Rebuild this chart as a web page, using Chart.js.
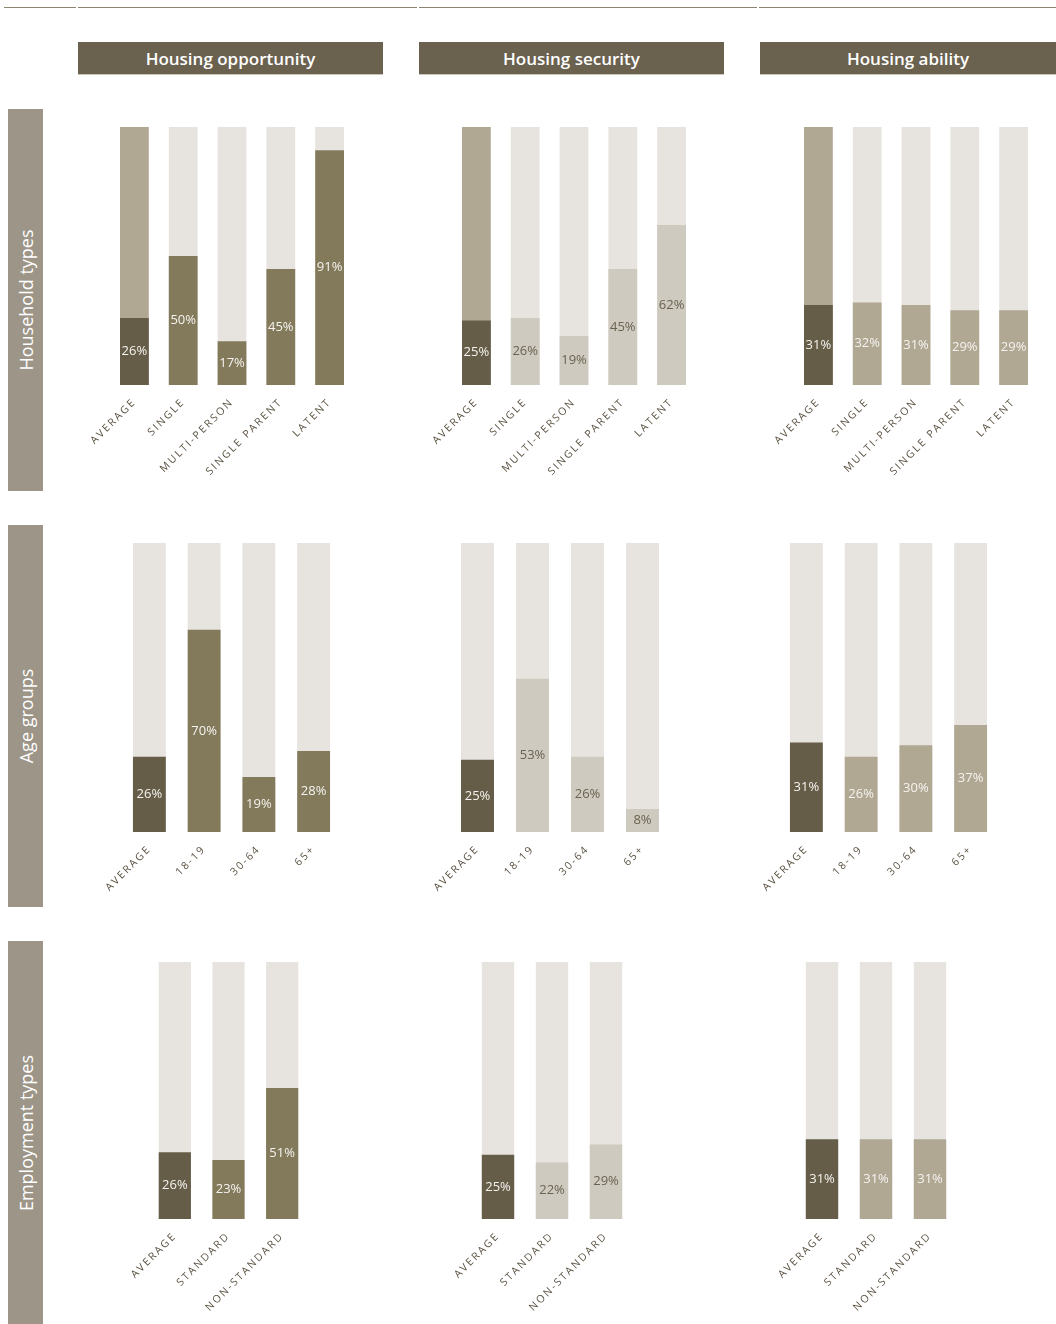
<!DOCTYPE html>
<html>
<head>
<meta charset="utf-8">
<script src="https://cdn.jsdelivr.net/npm/chart.js@4.4.1/dist/chart.umd.min.js"></script>
<style>
  html, body { margin: 0; padding: 0; background: #ffffff; }
  #page { position: relative; width: 1056px; height: 1324px; overflow: hidden; font-family: "Open Sans", sans-serif; }
  .rule { position: absolute; top: 7px; height: 1px; background: #8c8472; }
  .colhead { position: absolute; top: 42px; height: 32px; background: #6a614f; color: #ffffff; font-size: 17px; font-weight: 600;
             display: flex; align-items: center; justify-content: center; border-bottom: 1px solid #cbc6bb; }
  .rowhead { position: absolute; left: 8px; width: 35px; background: #9d9587; }
  .rowhead span { position: absolute; left: 50%; top: 50%; transform: translate(-50%, -50%) rotate(-90deg); white-space: nowrap;
                  color: #ffffff; font-size: 18px; font-weight: 500; }
  canvas.panel { position: absolute; left: 0; top: 0; }
</style>
</head>
<body>
<div id="page">
  <div class="rule" style="left:4px;width:72px"></div>
  <div class="rule" style="left:78px;width:339px"></div>
  <div class="rule" style="left:419px;width:338px"></div>
  <div class="rule" style="left:759px;width:297px"></div>

  <div class="colhead" style="left:78px;width:305px">Housing opportunity</div>
  <div class="colhead" style="left:419px;width:305px">Housing security</div>
  <div class="colhead" style="left:760px;width:296px">Housing ability</div>

  <div class="rowhead" style="top:109px;height:382px"><span>Household types</span></div>
  <div class="rowhead" style="top:525px;height:382px"><span>Age groups</span></div>
  <div class="rowhead" style="top:941px;height:383px"><span>Employment types</span></div>
</div>
<script>
// ---------- data ----------
const householdCats = ['AVERAGE', 'SINGLE', 'MULTI-PERSON', 'SINGLE PARENT', 'LATENT'];
const ageCats = ['AVERAGE', '18-19', '30-64', '65+'];
const employmentCats = ['AVERAGE', 'STANDARD', 'NON-STANDARD'];

const opportunityHousehold = [26, 50, 17, 45, 91];
const securityHousehold = [25, 26, 19, 45, 62];
const abilityHousehold = [31, 32, 31, 29, 29];

const opportunityAge = [26, 70, 19, 28];
const securityAge = [25, 53, 26, 8];
const abilityAge = [31, 26, 30, 37];

const opportunityEmployment = [26, 23, 51];
const securityEmployment = [25, 22, 29];
const abilityEmployment = [31, 31, 31];

const fullShare = 100;

// ---------- styling ----------
const W = 1056, H = 1324;
const AXIS_H = 100;
const C = {
  avg: '#665d48',
  opportunity: '#837a5c',
  security: '#cecabf',
  ability: '#b1a894',
  track: '#e7e4e0',
  trackAvgRow1: '#b1a894',
  labelLight: '#f5f3ef',
  labelDark: '#6b6251',
  tick: '#5a5141'
};

const valueLabelPlugin = {
  id: 'valueLabels',
  beforeDraw(chart) { chart.ctx.letterSpacing = '2px'; },
  afterDatasetsDraw(chart) {
    const ctx = chart.ctx;
    const meta = chart.getDatasetMeta(0);
    const ds = chart.data.datasets[0];
    ctx.save();
    ctx.letterSpacing = '0px';
    ctx.font = '13px "Open Sans", sans-serif';
    ctx.textAlign = 'center';
    ctx.textBaseline = 'middle';
    meta.data.forEach((bar, i) => {
      const v = ds.data[i];
      ctx.fillStyle = ds.labelColors[i];
      ctx.fillText(v + '%', bar.x, (bar.y + bar.base) / 2);
    });
    ctx.restore();
  }
};

function makePanel(area, cats, values, valueColor, labelColor, avgTrack) {
  const canvas = document.createElement('canvas');
  canvas.className = 'panel';
  canvas.width = W; canvas.height = H;
  canvas.style.width = W + 'px'; canvas.style.height = H + 'px';
  document.getElementById('page').appendChild(canvas);
  const colors = cats.map((c, i) => i === 0 ? C.avg : valueColor);
  const lblColors = cats.map((c, i) => i === 0 ? C.labelLight : labelColor);
  const trackColors = cats.map((c, i) => (i === 0 && avgTrack) ? avgTrack : C.track);
  const pct = area.pct;
  new Chart(canvas, {
    type: 'bar',
    data: {
      labels: cats,
      datasets: [
        { data: values, backgroundColor: colors, labelColors: lblColors, order: 0, grouped: false,
          categoryPercentage: 1, barPercentage: pct },
        { data: cats.map(() => fullShare), backgroundColor: trackColors, order: 1, grouped: false,
          categoryPercentage: 1, barPercentage: pct }
      ]
    },
    options: {
      responsive: false,
      animation: false,
      events: [],
      layout: { padding: { left: area.l, right: W - area.r, top: area.t, bottom: H - area.b - AXIS_H } },
      plugins: { legend: { display: false }, tooltip: { enabled: false } },
      scales: {
        x: {
          grid: { display: false, drawTicks: false },
          border: { display: false },
          ticks: {
            autoSkip: false, minRotation: 45, maxRotation: 45, padding: 11,
            color: C.tick, font: { family: '"Open Sans", sans-serif', size: 10.5 }
          },
          afterFit(s) { s.height = AXIS_H; s.paddingLeft = 0; s.paddingRight = 0; }
        },
        y: { display: false, min: 0, max: fullShare }
      }
    },
    plugins: [valueLabelPlugin]
  });
}

// row 1: household types
makePanel({ l: 110, r: 354, t: 127, b: 385, pct: 0.59 }, householdCats, opportunityHousehold, C.opportunity, C.labelLight, C.trackAvgRow1);
makePanel({ l: 452, r: 696, t: 127, b: 385, pct: 0.59 }, householdCats, securityHousehold, C.security, C.labelDark, C.trackAvgRow1);
makePanel({ l: 794, r: 1038, t: 127, b: 385, pct: 0.59 }, householdCats, abilityHousehold, C.ability, C.labelLight, C.trackAvgRow1);
// row 2: age groups
makePanel({ l: 122, r: 341, t: 543, b: 832, pct: 0.6 }, ageCats, opportunityAge, C.opportunity, C.labelLight, null);
makePanel({ l: 450, r: 670, t: 543, b: 832, pct: 0.6 }, ageCats, securityAge, C.security, C.labelDark, null);
makePanel({ l: 779, r: 998, t: 543, b: 832, pct: 0.6 }, ageCats, abilityAge, C.ability, C.labelLight, null);
// row 3: employment types
makePanel({ l: 148, r: 309, t: 962, b: 1219, pct: 0.6 }, employmentCats, opportunityEmployment, C.opportunity, C.labelLight, null);
makePanel({ l: 471, r: 633, t: 962, b: 1219, pct: 0.6 }, employmentCats, securityEmployment, C.security, C.labelDark, null);
makePanel({ l: 795, r: 957, t: 962, b: 1219, pct: 0.6 }, employmentCats, abilityEmployment, C.ability, C.labelLight, null);
</script>
</body>
</html>
